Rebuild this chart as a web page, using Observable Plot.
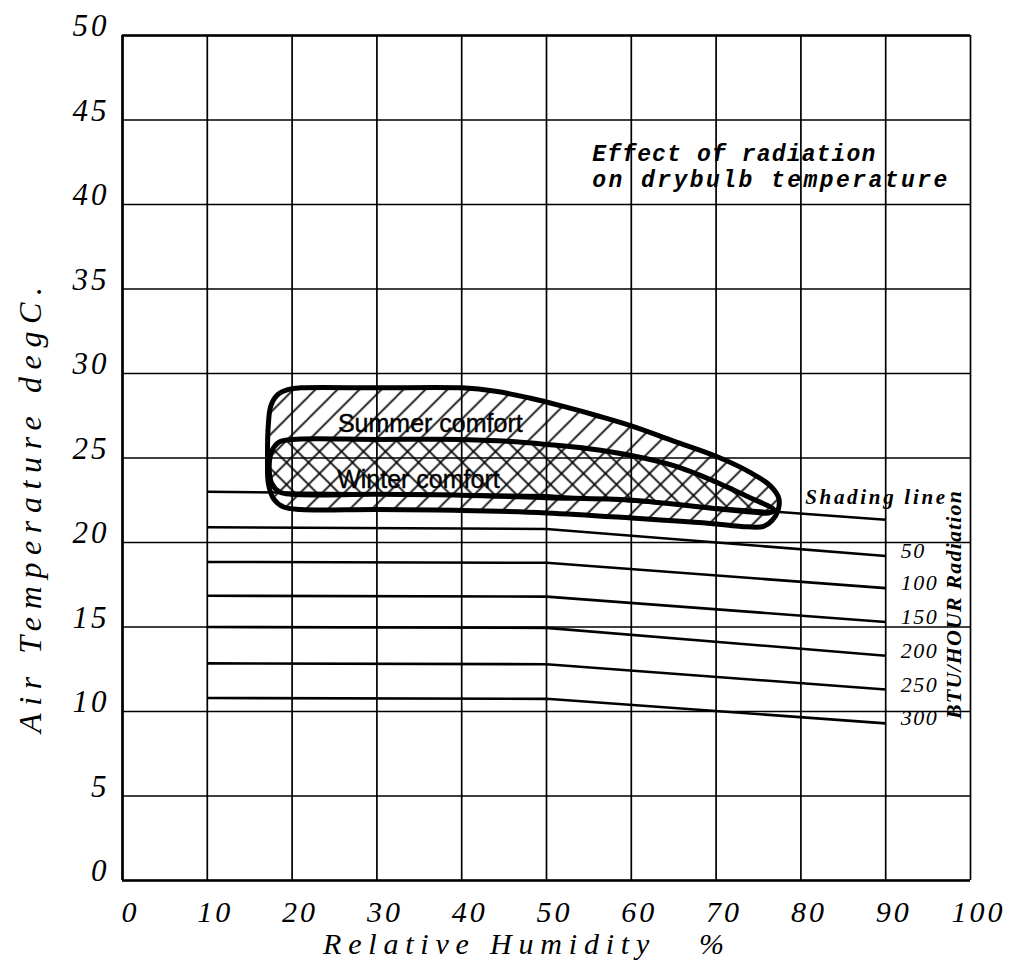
<!DOCTYPE html>
<html><head><meta charset="utf-8">
<script src="https://cdn.jsdelivr.net/npm/d3@7"></script>
<script src="https://cdn.jsdelivr.net/npm/@observablehq/plot@0.6"></script>
<style>body{margin:0;background:#fff}</style>
</head><body><div id="chart"></div>
<script>
// ---- data ----
const xTicks = [0, 10, 20, 30, 40, 50, 60, 70, 80, 90, 100];
const yTicks = [0, 5, 10, 15, 20, 25, 30, 35, 40, 45, 50];
const radiationLabels = ["Shading line", "50", "100", "150", "200", "250", "300"];
const humidityBreaks = [10, 50, 90];
const tempAt10 = [23.0, 20.9, 18.85, 16.85, 15.0, 12.85, 10.8];
const tempAt50 = [22.8, 20.8, 18.8, 16.8, 14.95, 12.8, 10.75];
const tempAt90 = [21.35, 19.2, 17.3, 15.3, 13.3, 11.3, 9.3];

const summerX = [17.2, 17.5, 18.3, 19.5, 21, 30, 40, 44, 48, 52, 56, 60, 65, 70, 74, 76.4, 77.4, 77.3, 76.6, 75.6, 73, 70, 60, 50, 40, 30, 21, 19, 17.8, 17.2, 17.1];
const summerY = [27.0, 28.1, 28.75, 29.05, 29.15, 29.15, 29.15, 28.95, 28.55, 28.05, 27.5, 26.9, 26.0, 25.1, 24.15, 23.35, 22.6, 21.9, 21.3, 20.95, 20.95, 21.1, 21.45, 21.75, 21.9, 21.95, 21.95, 22.1, 22.6, 23.5, 25.0];
const winterX = [17.3, 17.6, 18.5, 20, 30, 40, 45, 50, 55, 60, 65, 68, 71, 74, 76, 76.8, 76.3, 75.3, 70, 60, 50, 40, 30, 20, 18.5, 17.6];
const winterY = [24.5, 25.4, 25.95, 26.1, 26.1, 26.1, 26.0, 25.8, 25.55, 25.15, 24.55, 24.0, 23.35, 22.65, 22.2, 21.95, 21.75, 21.75, 22.0, 22.5, 22.65, 22.8, 22.85, 22.85, 23.0, 23.5];

const title = "Effect of radiation\non drybulb temperature";
const xLabel = "Relative Humidity\u00a0\u00a0\u00a0%";
const yLabel = "Air Temperature degC.";
const radiationUnit = "BTU/HOUR Radiation";
const summerLabel = "Summer comfort";
const winterLabel = "Winter comfort";

// ---- tables ----
const tempRows = [tempAt10, tempAt50, tempAt90];
const rad = radiationLabels.flatMap((label, i) =>
  humidityBreaks.map((rh, j) => ({label, rh, t: tempRows[j][i]})));
const radEnds = radiationLabels.map((label, i) => ({label, rh: 90, t: tempAt90[i]})).slice(1);
const summer = summerX.map((x, i) => ({x, y: summerY[i]}));
const winter = winterX.map((x, i) => ({x, y: winterY[i]}));

const serif = "'Liberation Serif', 'Times New Roman', serif";
const sans = "'Liberation Sans', Arial, sans-serif";
const chart = Plot.plot({
  width: 1026, height: 978,
  marginLeft: 122, marginRight: 56, marginTop: 35, marginBottom: 98,
  x: {domain: [0, 100], axis: null},
  y: {domain: [0, 50], axis: null},
  style: {background: "white", color: "black", overflow: "visible"},
  marks: [
    Plot.ruleX(xTicks, {x: d => d, y1: 0, y2: 50, stroke: "black", strokeWidth: 1.7}),
    Plot.ruleY(yTicks, {y: d => d, x1: 0, x2: 100, stroke: "black", strokeWidth: 1.7}),
    Plot.ruleX([0], {x: d => d, y1: 0, y2: 50, stroke: "black", strokeWidth: 2.6}),
    Plot.ruleY([0, 50], {y: d => d, x1: 0, x2: 100, stroke: "black", strokeWidth: 2.6}),
    Plot.line(rad, {x: "rh", y: "t", z: "label", stroke: "black", strokeWidth: 2.6, strokeLinecap: "butt"}),
    Plot.line(summer, {x: "x", y: "y", curve: "catmull-rom-closed", fill: "url(#hatchSummer)", stroke: "black", strokeWidth: 5}),
    Plot.line(winter, {x: "x", y: "y", curve: "catmull-rom-closed", fill: "url(#hatchWinter)", stroke: "black", strokeWidth: 5}),
    Plot.text([summerLabel], {x: 36.3, y: 27.0, text: d => d, fontSize: 25, fontFamily: sans, fill: "black", stroke: "black", strokeWidth: 0.4}),
    Plot.text([winterLabel], {x: 34.9, y: 23.7, text: d => d, fontSize: 25, fontFamily: sans, fill: "black", stroke: "black", strokeWidth: 0.4}),
    // tick labels
    Plot.text(yTicks, {x: 0, y: d => d, text: d => String(d), textAnchor: "end", dx: -13, dy: -9, fontSize: 31, fontStyle: "italic", fontFamily: serif, className: "ticklab"}),
    Plot.text(xTicks, {x: d => d, y: 0, text: d => String(d), dx: 8, dy: 32, fontSize: 30, fontStyle: "italic", fontFamily: serif, className: "ticklab"}),
    // axis labels
    Plot.text([xLabel], {frameAnchor: "bottom", textAnchor: "middle", text: d => d, dx: -23, dy: 73, fontSize: 30, fontStyle: "italic", fontFamily: serif, className: "xlab"}),
    Plot.text([yLabel], {frameAnchor: "left", textAnchor: "middle", text: d => d, rotate: -90, dx: -92, dy: 52, fontSize: 32, fontStyle: "italic", fontFamily: serif, className: "ylab"}),
    // radiation labels
    Plot.text(radEnds, {x: "rh", y: "t", text: "label", textAnchor: "start", dx: 15, dy: -5, fontSize: 22, fontStyle: "italic", fontFamily: serif, className: "radlab"}),
    Plot.text([radiationLabels[0]], {x: 80.5, y: 22.7, text: d => d, textAnchor: "start", fontSize: 21, fontStyle: "italic", fontWeight: "bold", fontFamily: serif, className: "shadelab"}),
    Plot.text([radiationUnit], {x: 98, y: 16.3, text: d => d, rotate: -90, fontSize: 22, fontStyle: "italic", fontWeight: "bold", fontFamily: serif, className: "btulab"}),
    // title
    Plot.text([title], {x: 55.4, y: 42.3, text: d => d, textAnchor: "start", lineHeight: 1.12, fontSize: 23, fontStyle: "italic", fontWeight: "bold", fontFamily: "'Liberation Mono', monospace", className: "titlelab"})
  ]
});

// hatch patterns
const svg = d3.select(chart);
const defs = svg.insert("defs", ":first-child");
const s = 22;
defs.append("pattern").attr("id", "hatchSummer").attr("patternUnits", "userSpaceOnUse")
  .attr("width", s).attr("height", s)
  .append("path").attr("d", `M${-s/2},${s/2} l${s},${-s} M0,${s} l${s},${-s} M${s/2},${s*1.5} l${s},${-s}`)
  .attr("stroke", "black").attr("stroke-width", 1.6).attr("fill", "none");
defs.append("pattern").attr("id", "hatchWinter").attr("patternUnits", "userSpaceOnUse")
  .attr("width", s).attr("height", s)
  .append("path").attr("d", `M${-s/2},${s/2} l${s},${s} M0,0 l${s},${s} M${s/2},${-s/2} l${s},${s}`)
  .attr("stroke", "black").attr("stroke-width", 1.6).attr("fill", "none");

// stretch some labels to the reference length
svg.selectAll("g.ticklab text").style("letter-spacing", "3px");
svg.selectAll("g.radlab text").style("letter-spacing", "1.5px");
svg.selectAll("g.xlab text").attr("textLength", 401).attr("lengthAdjust", "spacing");
svg.selectAll("g.ylab text").attr("textLength", 446).attr("lengthAdjust", "spacing");
svg.selectAll("g.shadelab text").attr("textLength", 140).attr("lengthAdjust", "spacing");
svg.selectAll("g.btulab text").attr("textLength", 228).attr("lengthAdjust", "spacing");
const titleLengths = [283, 355];
svg.selectAll("g.titlelab tspan").each(function(d, i) {
  if (titleLengths[i]) d3.select(this).attr("textLength", titleLengths[i]).attr("lengthAdjust", "spacing");
});

document.getElementById("chart").append(chart);
</script>
</body></html>
